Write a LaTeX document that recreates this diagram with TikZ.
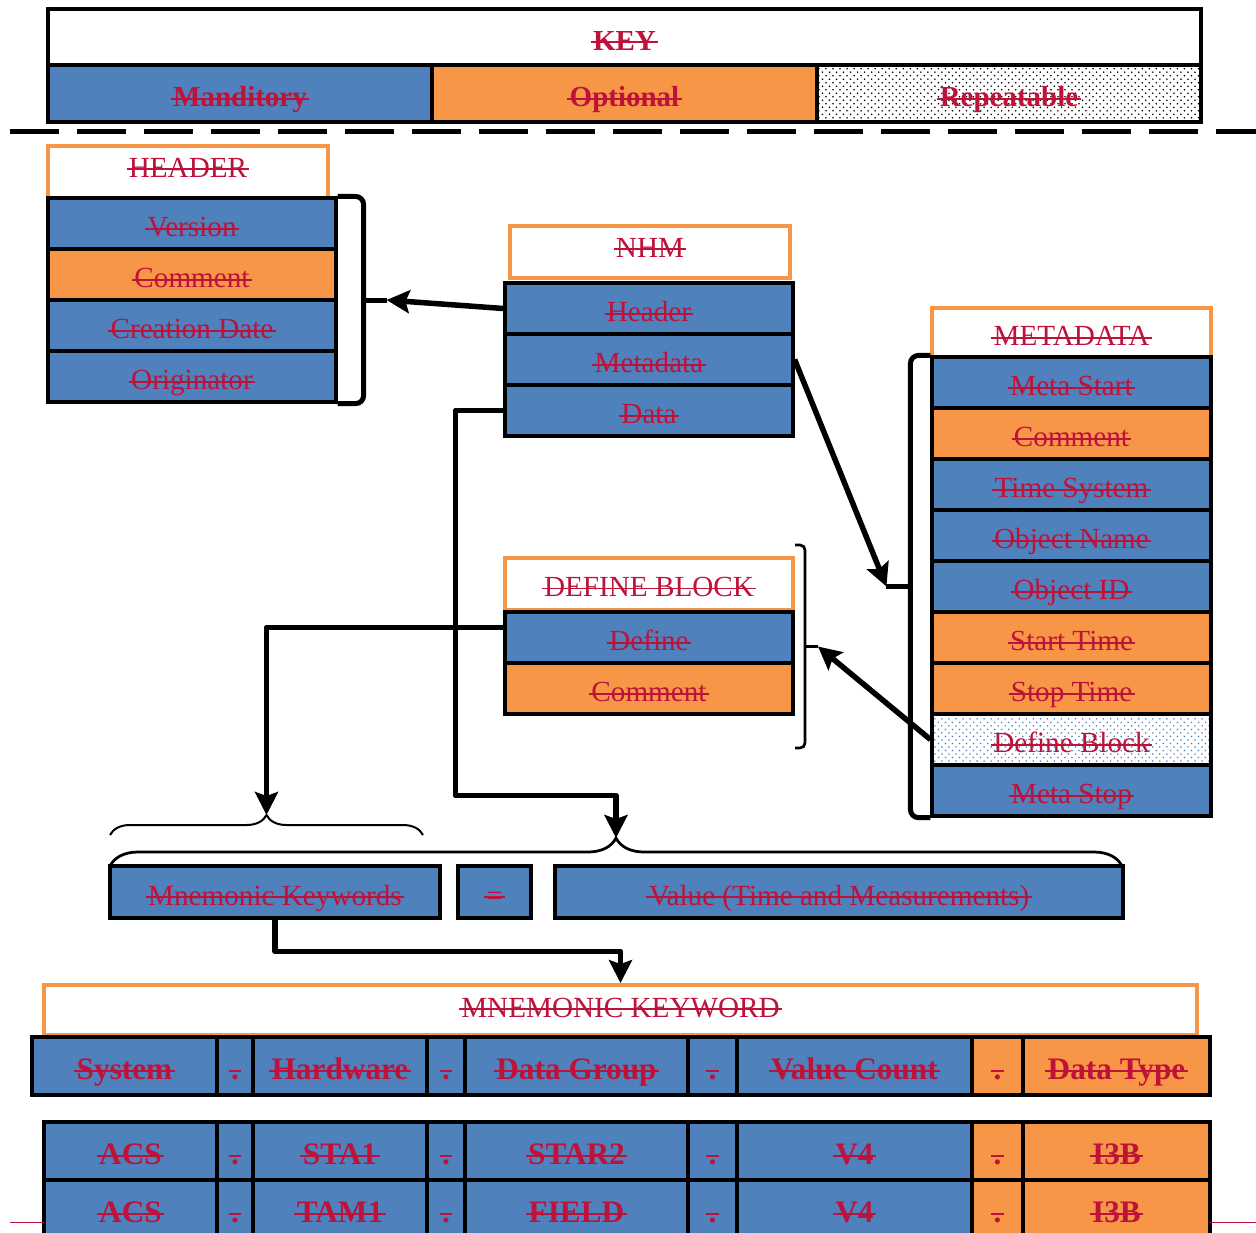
\documentclass[tikz,border=0pt]{standalone}
\usepackage{fontspec}
\setmainfont{Liberation Serif}
\usetikzlibrary{arrows.meta,patterns,decorations.pathreplacing,calc}

\definecolor{nhmblue}{RGB}{79,129,189}
\definecolor{nhmorange}{RGB}{247,150,70}
\definecolor{nhmred}{RGB}{190,18,58}

\pgfdeclarepatternformonly{sparse dots}{\pgfqpoint{-1pt}{-1pt}}{\pgfqpoint{5pt}{5pt}}{\pgfqpoint{4pt}{4pt}}{%
  \pgfpathcircle{\pgfqpoint{0pt}{0pt}}{.5pt}%
  \pgfpathcircle{\pgfqpoint{2pt}{2pt}}{.5pt}%
  \pgfusepath{fill}}

\newsavebox{\strkbox}
\newcommand{\strk}[1]{\sbox{\strkbox}{#1}\makebox[0pt][l]{\kern-0.08em\rule[0.52ex]{\dimexpr\wd\strkbox+0.16em\relax}{0.06em}}\usebox{\strkbox}}

\tikzset{
  lbl/.style={text=nhmred, font=\fontsize{16.6}{20}\selectfont, inner sep=0pt, text height=3.6ex, text depth=0.35ex},
  bld/.style={font=\fontsize{16.5}{20}\selectfont\bfseries},
  tbl/.style={font=\fontsize{17.8}{21}\selectfont\bfseries},
  title/.style={lbl, draw=nhmorange, line width=2.2pt, fill=white, minimum height=10.4mm, text height=1.6ex},
  cell/.style={lbl, draw=black, line width=1.8pt, minimum height=10.2mm},
  mand/.style={cell, fill=nhmblue},
  opt/.style={cell, fill=nhmorange},
  rept/.style={cell, pattern=sparse dots, pattern color=black},
  reptb/.style={cell, pattern=sparse dots, pattern color=nhmblue},
  keyhead/.style={cell, bld, fill=white, line width=2.4pt, minimum height=11.2mm},
  tcell/.style={tbl, line width=2.4pt, minimum height=11.6mm},
  arr/.style={line width=1.1mm, -{Stealth[length=4.6mm,width=4.6mm,inset=0.8mm]}, line join=round},
  brk/.style={line width=1mm, rounded corners=1.6mm},
  thinbrk/.style={line width=0.55mm, rounded corners=1mm},
  smbrace/.style={line width=0.4mm, decorate, decoration={brace, amplitude=4mm}},
  bgbrace/.style={line width=0.55mm, decorate, decoration={brace, amplitude=5.6mm}},
}

\begin{document}
\begin{tikzpicture}[x=0.2mm, y=-0.2mm]
\useasboundingbox (0,0) rectangle (1256,1232);

\node[keyhead, minimum width=230.6mm] (key) at (624.5,37) {\strk{KEY}};
\node[mand, bld, line width=2.4pt, minimum width=76.8mm, minimum height=11.4mm] (kman) at (240,93.5) {\strk{Manditory}};
\node[opt, bld, line width=2.4pt, minimum width=77mm, minimum height=11.4mm] (kopt) at (624.5,93.5) {\strk{Optional}};
\node[rept, bld, line width=2.4pt, minimum width=76.8mm, minimum height=11.4mm] (krep) at (1009,93.5) {\strk{Repeatable}};
\draw[line width=1mm, dash pattern=on 9.8mm off 3.6mm] (10,131) -- (1256,131);

\node[title, minimum width=56mm] (ht) at (188,172) {\strk{HEADER}};
\node[mand, minimum width=57.6mm] (hv) at (192,223.5) {\strk{Version}};
\node[opt, minimum width=57.6mm] (hc) at (192,274.5) {\strk{Comment}};
\node[mand, minimum width=57.6mm] (hd) at (192,325.5) {\strk{Creation Date}};
\node[mand, minimum width=57.6mm] (ho) at (192,376.5) {\strk{Originator}};
\draw[brk] (hv.north east) -- ++(26,0) -- ($(ho.south east)+(26,0)$) -- (ho.south east);
\coordinate (hm) at ($(hv.north east)!.5!(ho.south east)+(26,0)$);
\coordinate (htip) at ($(hm)+(23,0)$);
\draw[brk] (hm) -- (htip);

\node[title, minimum width=56mm] (nt) at (650,252) {\strk{NHM}};
\node[mand, minimum width=57.6mm] (nh) at (649,308.5) {\strk{Header}};
\node[mand, minimum width=57.6mm] (nm) at (649,359.5) {\strk{Metadata}};
\node[mand, minimum width=57.6mm] (nd) at (649,410.5) {\strk{Data}};

\node[title, minimum width=55.8mm, minimum height=9.8mm, text height=3.6ex] (mt) at (1071.5,332.5) {\strk{METADATA}};
\node[mand, minimum width=55.8mm] (ms) at (1071.5,382.5) {\strk{Meta Start}};
\node[opt, minimum width=55.8mm] (mc) at (1071.5,433.5) {\strk{Comment}};
\node[mand, minimum width=55.8mm] (mts) at (1071.5,484.5) {\strk{Time System}};
\node[mand, minimum width=55.8mm] (mon) at (1071.5,535.5) {\strk{Object Name}};
\node[mand, minimum width=55.8mm] (moi) at (1071.5,586.5) {\strk{Object ID}};
\node[opt, minimum width=55.8mm] (mst) at (1071.5,637.5) {\strk{Start Time}};
\node[opt, minimum width=55.8mm] (msp) at (1071.5,688.5) {\strk{Stop Time}};
\node[reptb, minimum width=55.8mm] (mdb) at (1071.5,739.5) {\strk{Define Block}};
\node[mand, minimum width=55.8mm] (mse) at (1071.5,790.5) {\strk{Meta Stop}};
\draw[brk] (ms.north west) -- ++(-20,0) -- ($(mse.south west)+(-20,0)$) -- (mse.south west);
\coordinate (mm) at ($(ms.north west)!.5!(mse.south west)+(-20,0)$);
\coordinate (mtip) at ($(mm)+(-24,0)$);
\draw[brk] (mm) -- (mtip);

\node[title, minimum width=57.6mm, text height=3.4ex] (dt) at (649,584) {\strk{DEFINE BLOCK}};
\node[mand, minimum width=57.6mm] (dd) at (649,637.5) {\strk{Define}};
\node[opt, minimum width=57.6mm] (dc) at (649,688.5) {\strk{Comment}};
\coordinate (db1) at (795,545);
\coordinate (db2) at (795,748);
\draw[thinbrk] (db1) -- ++(10,0) -- ($(db2)+(10,0)$) -- (db2);
\coordinate (dm) at ($(db1)!.5!(db2)+(10,0)$);
\coordinate (dtip) at ($(dm)+(13,0)$);
\draw[thinbrk] (dm) -- (dtip);

\draw[smbrace] (110,835) -- (423,835);
\coordinate (kt) at (266.5,815);
\draw[bgbrace] (110,866) -- (1122,866);
\coordinate (vt) at (616,838);
\node[mand, minimum width=66mm, minimum height=10.4mm] (mk) at (275,892) {\strk{Mnemonic Keywords}};
\node[mand, minimum width=14.6mm, minimum height=10.4mm] (eq) at (494.5,892) {\strk{=}};
\node[mand, minimum width=113.6mm, minimum height=10.4mm] (vl) at (839,892) {\strk{Value (Time and Measurements)}};

\node[title, minimum width=230.6mm, minimum height=10mm, text height=2.1ex] (kw) at (620.5,1010) {\strk{MNEMONIC KEYWORD}};

\node[mand, tcell, minimum width=37mm] (ts) at (124.5,1066) {\strk{System}};
\node[mand, tcell, minimum width=7.2mm] (ts1) at (235,1066) {\strk{.}};
\node[mand, tcell, minimum width=34.8mm] (th) at (340,1066) {\strk{Hardware}};
\node[mand, tcell, minimum width=7.6mm] (ts2) at (446,1066) {\strk{.}};
\node[mand, tcell, minimum width=44.6mm] (tg) at (576.5,1066) {\strk{Data Group}};
\node[mand, tcell, minimum width=9.8mm] (ts3) at (712.5,1066) {\strk{.}};
\node[mand, tcell, minimum width=47mm] (tv) at (854.5,1066) {\strk{Value Count}};
\node[opt, tcell, minimum width=10.2mm] (ts4) at (997.5,1066) {\strk{.}};
\node[opt, tcell, minimum width=37.4mm] (tt) at (1116.5,1066) {\strk{Data Type}};

\node[mand, tcell, minimum width=34.6mm] (a1) at (130.5,1151) {\strk{ACS}};
\node[mand, tcell, minimum width=7.2mm] (a2) at (235,1151) {\strk{.}};
\node[mand, tcell, minimum width=34.8mm] (a3) at (340,1151) {\strk{STA1}};
\node[mand, tcell, minimum width=7.6mm] (a4) at (446,1151) {\strk{.}};
\node[mand, tcell, minimum width=44.6mm] (a5) at (576.5,1151) {\strk{STAR2}};
\node[mand, tcell, minimum width=9.8mm] (a6) at (712.5,1151) {\strk{.}};
\node[mand, tcell, minimum width=47mm] (a7) at (854.5,1151) {\strk{V4}};
\node[opt, tcell, minimum width=10.2mm] (a8) at (997.5,1151) {\strk{.}};
\node[opt, tcell, minimum width=37.4mm] (a9) at (1116.5,1151) {\strk{I3B}};

\node[mand, tcell, minimum width=34.6mm] (b1) at (130.5,1209) {\strk{ACS}};
\node[mand, tcell, minimum width=7.2mm] (b2) at (235,1209) {\strk{.}};
\node[mand, tcell, minimum width=34.8mm] (b3) at (340,1209) {\strk{TAM1}};
\node[mand, tcell, minimum width=7.6mm] (b4) at (446,1209) {\strk{.}};
\node[mand, tcell, minimum width=44.6mm] (b5) at (576.5,1209) {\strk{FIELD}};
\node[mand, tcell, minimum width=9.8mm] (b6) at (712.5,1209) {\strk{.}};
\node[mand, tcell, minimum width=47mm] (b7) at (854.5,1209) {\strk{V4}};
\node[opt, tcell, minimum width=10.2mm] (b8) at (997.5,1209) {\strk{.}};
\node[opt, tcell, minimum width=37.4mm] (b9) at (1116.5,1209) {\strk{I3B}};
\draw[nhmred, line width=0.5pt] (10,1222) -- (44,1222);
\draw[nhmred, line width=0.5pt] (1210,1222) -- (1256,1222);

\draw[arr] (nh.west) -- (htip);
\draw[arr] (nm.east) -- (mtip);
\draw[arr] (mdb.west) -- (dtip);
\draw[arr] (nd.west) -- ++(-48,0) -- ++(0,385) -| (vt);
\draw[arr] ([yshift=2mm]dd.west) -| (kt);
\draw[arr] (mk.south) -- ++(0,32) -| (kw.north);
\end{tikzpicture}
\end{document}
